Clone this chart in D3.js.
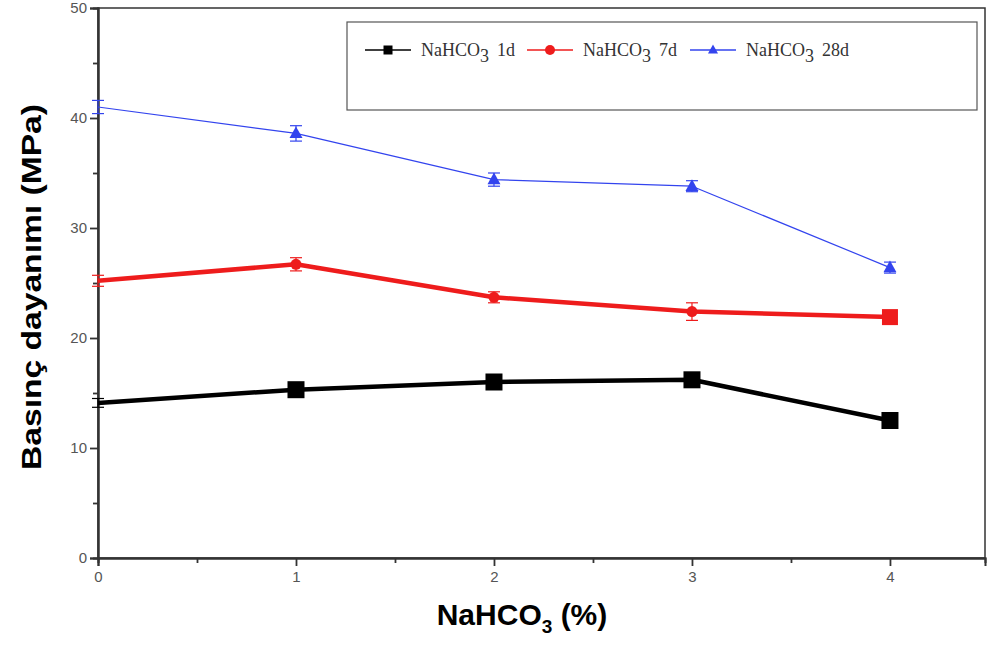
<!DOCTYPE html>
<html>
<head>
<meta charset="utf-8">
<script src="https://cdn.jsdelivr.net/npm/d3@7"></script>
<style>
  body { margin: 0; background: #fff; }
  svg { display: block; }
</style>
</head>
<body>
<svg id="chart" width="987" height="645"></svg>
<script>
/***********************************************************************/
// Data

var xValues = [0, 1, 2, 3, 4];
var xTicks = [0, 1, 2, 3, 4];
var yTicks = [0, 10, 20, 30, 40, 50];

var series1d = [14.1, 15.3, 16.0, 16.2, 12.5];
var err1d = [0.4, 0.5, 0.5, 0.6, 0.5];
var series7d = [25.2, 26.7, 23.7, 22.4, 21.9];
var err7d = [0.5, 0.6, 0.5, 0.8, 0.5];
var series28d = [41.0, 38.6, 34.4, 33.8, 26.4];
var err28d = [0.6, 0.7, 0.6, 0.5, 0.5];

var legendLabels = ['1d', '7d', '28d'];

/***********************************************************************/
// Layout

var svg = d3.select('#chart');
var plotLeft = 98, plotRight = 985, plotTop = 8, plotBottom = 558;

var xScale = d3.scaleLinear().domain([0, 4.48]).range([plotLeft, plotRight]);
var yScale = d3.scaleLinear().domain([0, 50]).range([plotBottom, plotTop]);

// frame
svg.append('rect').attr('x', plotLeft).attr('y', plotTop)
  .attr('width', plotRight - plotLeft).attr('height', plotBottom - plotTop)
  .attr('fill', 'none').attr('stroke', '#333').attr('stroke-width', 1.5);

// axes
var yAxis = d3.axisLeft(yScale).tickValues(yTicks).tickSize(8).tickPadding(3).tickFormat(d3.format('d'));
var yMinor = d3.axisLeft(yScale).tickValues([5, 15, 25, 35, 45]).tickSize(5).tickFormat('');
var xAxis = d3.axisBottom(xScale).tickValues(xTicks).tickSize(8).tickPadding(5).tickFormat(d3.format('d'));
var xMinor = d3.axisBottom(xScale).tickValues([0.5, 1.5, 2.5, 3.5]).tickSize(5).tickFormat('');

function styleAxis(g){
  g.select('.domain').attr('stroke', '#333').attr('stroke-width', 2);
  g.selectAll('.tick line').attr('stroke', '#333').attr('stroke-width', 1.8);
  g.selectAll('.tick text').attr('fill', '#555').style('font-family', 'Liberation Sans, Arial, sans-serif').style('font-size', '15px');
}

svg.append('g').attr('transform', 'translate(' + plotLeft + ',0)').call(yAxis).call(styleAxis);
svg.append('g').attr('transform', 'translate(' + plotLeft + ',0)').call(yMinor).call(styleAxis);
svg.append('g').attr('transform', 'translate(0,' + plotBottom + ')').call(xAxis).call(styleAxis);
svg.append('g').attr('transform', 'translate(0,' + plotBottom + ')').call(xMinor).call(styleAxis);

// axis titles
svg.append('text')
  .attr('transform', 'translate(41,287) rotate(-90)')
  .attr('text-anchor', 'middle')
  .style('font-family', 'Liberation Sans, Arial, sans-serif')
  .style('font-weight', 'bold').style('font-size', '28px')
  .attr('textLength', 366).attr('lengthAdjust', 'spacingAndGlyphs')
  .text('Basınç dayanımı (MPa)');

var xTitle = svg.append('text')
  .attr('x', 522).attr('y', 625)
  .attr('text-anchor', 'middle')
  .style('font-family', 'Liberation Sans, Arial, sans-serif')
  .style('font-weight', 'bold').style('font-size', '30px');
xTitle.append('tspan').text('NaHCO');
xTitle.append('tspan').attr('dy', 8).style('font-size', '19px').text('3');
xTitle.append('tspan').attr('dy', -8).text(' (%)');

/***********************************************************************/
// Series

var seriesList = [
  { values: series1d, err: err1d, color: '#000', width: 4.5, marker: ['', 'square', 'square', 'square', 'square'], size: 17 },
  { values: series7d, err: err7d, color: '#ee1c1c', width: 4.5, marker: ['', 'circle', 'circle', 'circle', 'square'], size: 11 },
  { values: series28d, err: err28d, color: '#3344ee', width: 1.2, marker: ['', 'triangle', 'triangle', 'triangle', 'triangle'], size: 13 }
];

var line = d3.line()
  .x((d, i) => xScale(xValues[i]))
  .y(d => yScale(d));

function drawMarker(g, type, x, y, s, color){
  if(type === 'square'){
    g.append('rect').attr('x', x - s / 2).attr('y', y - s / 2).attr('width', s).attr('height', s).attr('fill', color);
  } else if(type === 'circle'){
    g.append('circle').attr('cx', x).attr('cy', y).attr('r', s / 2).attr('fill', color);
  } else if(type === 'triangle'){
    var h = s * 0.9;
    g.append('path').attr('d', 'M' + x + ',' + (y - h * 0.6) + 'L' + (x + s / 2) + ',' + (y + h * 0.4) + 'L' + (x - s / 2) + ',' + (y + h * 0.4) + 'Z').attr('fill', color);
  }
}

seriesList.forEach(s => {
  svg.append('path').datum(s.values).attr('d', line)
    .attr('fill', 'none').attr('stroke', s.color).attr('stroke-width', s.width)
    .attr('stroke-linejoin', 'round');

  var g = svg.append('g');
  s.values.forEach((v, i) => {
    var cx = xScale(xValues[i]);
    // error bar
    g.append('line').attr('x1', cx).attr('x2', cx)
      .attr('y1', yScale(v + s.err[i])).attr('y2', yScale(v - s.err[i]))
      .attr('stroke', s.color).attr('stroke-width', 1.2);
    [v + s.err[i], v - s.err[i]].forEach(e => {
      g.append('line').attr('x1', cx - 6).attr('x2', cx + 6)
        .attr('y1', yScale(e)).attr('y2', yScale(e))
        .attr('stroke', s.color).attr('stroke-width', 1.2);
    });
    var sz = (s.marker[i] === 'square' && s.marker[1] !== 'square') ? 16 : s.size;
    drawMarker(g, s.marker[i], cx, yScale(v), sz, s.color);
  });
});

/***********************************************************************/
// Legend

svg.append('rect').attr('x', 347).attr('y', 22).attr('width', 630).attr('height', 88)
  .attr('fill', '#fff').attr('stroke', '#555').attr('stroke-width', 1.2);

var legendX = [365, 527, 690];
seriesList.forEach((s, i) => {
  var lx = legendX[i], ly = 50;
  svg.append('line').attr('x1', lx).attr('x2', lx + 46).attr('y1', ly).attr('y2', ly)
    .attr('stroke', s.color).attr('stroke-width', 1.3);
  drawMarker(svg, s.marker[1], lx + 23, ly, i === 0 ? 9 : 10, s.color);
  var t = svg.append('text').attr('x', lx + 56).attr('y', ly + 6)
    .style('font-family', 'Liberation Serif, Times New Roman, serif')
    .style('font-size', '18px').attr('fill', '#333');
  t.append('tspan').text('NaHCO');
  t.append('tspan').attr('dy', 6).text('3');
  t.append('tspan').attr('dy', -6).attr('dx', 8).text(legendLabels[i]);
});
</script>
</body>
</html>
